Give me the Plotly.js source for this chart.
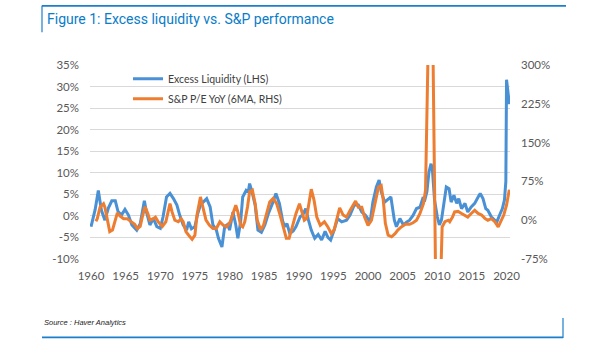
<!DOCTYPE html>
<html>
<head>
<meta charset="utf-8">
<script src="https://cdn.plot.ly/plotly-3.0.1.min.js"></script>
<style>html,body{margin:0;padding:0;background:#fff;}#chart{width:605px;height:341px;}</style>
</head>
<body>
<div id="chart"></div>
<script>
// Excess Liquidity (LHS, %)
const liqYears = [1960.0,1960.3,1960.6,1961.05,1961.5,1962.0,1962.5,1963.0,1963.5,1963.9,1964.4,1964.9,1965.4,1965.9,1966.6,1967.1,1967.7,1968.0,1968.5,1969.0,1969.5,1970.0,1970.4,1970.9,1971.4,1971.9,1972.4,1972.8,1973.3,1973.8,1974.1,1974.5,1975.0,1975.4,1975.8,1976.2,1976.7,1977.2,1977.6,1978.1,1978.4,1978.9,1979.1,1979.3,1979.8,1980.0,1980.5,1980.9,1981.2,1981.6,1981.9,1982.4,1982.7,1982.9,1983.3,1983.7,1984.1,1984.6,1985.1,1985.6,1986.2,1986.7,1987.2,1987.7,1988.0,1988.3,1988.7,1989.2,1989.6,1990.2,1990.6,1991.0,1991.4,1991.8,1992.3,1992.8,1993.3,1993.8,1994.2,1994.6,1995.1,1995.6,1996.2,1996.9,1997.4,1998.0,1998.6,1999.1,1999.6,2000.3,2000.7,2001.2,2001.6,2001.9,2002.4,2002.9,2003.3,2003.8,2004.1,2004.6,2005.1,2005.6,2006.0,2006.5,2007.0,2007.5,2007.9,2008.2,2008.5,2008.8,2009.1,2009.3,2009.6,2010.0,2010.3,2010.6,2010.8,2011.0,2011.3,2011.7,2012.0,2012.4,2012.8,2013.1,2013.5,2014.0,2014.4,2014.9,2015.4,2015.9,2016.2,2016.6,2017.0,2017.3,2017.8,2018.3,2018.6,2019.0,2019.4,2019.7,2019.9,2020.0,2020.2,2020.4,2020.45];
const liqValues = [-2.5,-0.3,1.5,5.9,1.3,-1.0,1.8,3.5,3.5,1.0,0.2,1.5,0.2,-2.1,-3.3,-1.8,3.5,0.9,-2.1,-0.6,-2.5,-2.9,-0.2,4.4,5.2,4.0,2.5,0.2,-2.1,-3.3,-1.4,-3.0,-2.5,0.5,2.5,3.2,4.0,2.1,-2.1,-3.3,-5.2,-7.2,-5.2,-2.5,-1.9,-3.3,0.9,-2.1,-5.2,-1.4,4.4,5.9,5.5,7.5,5.2,2.5,-3.3,-3.8,-2.1,0.5,2.9,5.2,2.9,-1.4,-2.5,-1.8,-4.1,-3.5,-2.5,-0.2,0.3,1.7,-1.0,-3.3,-5.2,-4.3,-5.6,-3.6,-5.0,-5.6,-3.3,-0.6,-1.4,-1.0,0.2,2.5,2.5,0.9,0.2,-1.4,3.2,6.7,8.3,5.6,3.2,4.0,4.4,-1.0,-2.5,-0.6,-2.1,-1.4,-1.0,0.1,1.7,2.0,4.0,3.7,5.6,10.2,12.1,10.6,3.7,-0.2,-2.1,-1.0,1.3,3.5,6.7,6.3,3.2,4.8,2.9,4.0,1.7,2.9,0.9,2.1,2.9,4.4,5.2,4.0,1.7,1.3,-0.2,-1.0,-1.4,0.2,1.7,3.7,8.0,31.6,28.0,26.0,26.3];

// S&P P/E YoY, 6MA (RHS, %)
const peYears = [1960.7,1960.9,1961.3,1961.8,1962.0,1962.4,1962.7,1963.1,1963.5,1963.8,1964.2,1964.7,1965.2,1965.9,1966.3,1966.7,1967.1,1967.4,1967.8,1968.2,1968.5,1969.0,1969.3,1969.7,1970.3,1970.8,1971.2,1971.4,1971.7,1972.1,1972.6,1973.0,1973.3,1973.7,1974.1,1974.6,1975.0,1975.3,1975.8,1976.2,1976.6,1977.1,1977.6,1978.1,1978.6,1979.1,1979.6,1980.1,1980.5,1980.9,1981.2,1981.6,1981.9,1982.2,1982.6,1982.9,1983.3,1983.7,1984.0,1984.5,1984.9,1985.4,1985.8,1986.3,1986.8,1987.3,1987.7,1988.2,1988.6,1989.1,1989.6,1990.1,1990.4,1990.8,1991.1,1991.5,1991.8,1992.2,1992.6,1993.1,1993.7,1994.2,1994.7,1995.1,1995.5,1995.9,1996.4,1996.9,1997.4,1997.9,1998.2,1998.6,1999.1,1999.5,2000.0,2000.5,2001.0,2001.5,2001.9,2002.2,2002.5,2002.9,2003.4,2003.9,2004.3,2004.8,2005.4,2006.0,2006.5,2007.0,2007.5,2008.0,2008.3,2008.8,2009.3,2009.8,2010.4,2010.7,2011.1,2011.6,2011.8,2012.2,2012.5,2013.0,2013.5,2014.0,2014.4,2014.9,2015.4,2015.9,2016.4,2016.9,2017.3,2017.8,2018.3,2018.8,2019.2,2019.6,2020.0,2020.4];
const peValues = [-2,3,25,32,25,-6,-22,-19,3,14,8,3,3,-3,-8,-16,-12,6,26,13,0,3,6,-3,-12,-3,22,32,16,0,-3,3,-3,-22,-29,-37,-29,10,45,19,0,-10,-16,-16,-3,-10,-13,-3,13,29,16,-10,-13,-3,26,55,58,32,0,-19,-10,13,35,42,32,10,-10,-35,-35,-10,13,32,16,0,3,32,60,39,6,-10,-3,-13,-26,-19,0,24,10,6,19,32,37,25,25,6,-10,0,29,64,67,39,-6,-29,-32,-26,-19,-13,-8,-8,-5,0,13,32,58,420,420,-160,-160,-13,-3,0,-3,6,16,17,13,10,6,13,19,13,10,3,0,3,-3,-13,-3,10,29,59];

const tickYears = [1960,1965,1970,1975,1980,1985,1990,1995,2000,2005,2010,2015,2020];
const leftTicks = [-10,-5,0,5,10,15,20,25,30,35];
const rightTicks = [-75,0,75,150,225,300];

const seriesNames = ['Excess Liquidity (LHS)', 'S&P P/E YoY (6MA, RHS)'];

const blue = '#4A90D4';
const orange = '#ED7D31';
const frame = '#1B7FCC';
const tickFont = {family: 'Lato, "Open Sans", sans-serif', size: 11.5, color: '#595959'};

const traces = [
  {x: liqYears, y: liqValues, name: seriesNames[0], type: 'scatter', mode: 'lines',
   line: {color: blue, width: 3}, yaxis: 'y', legendgroup: 'a'},
  {x: peYears, y: peValues, name: seriesNames[1], type: 'scatter', mode: 'lines',
   line: {color: orange, width: 3}, yaxis: 'y2', legendgroup: 'b'}
];

const px2x = px => (px - 90) / 420;
const px2y = py => (259 - py) / 194.3;

const layout = {
  width: 605, height: 341,
  margin: {l: 90, r: 95, t: 64.7, b: 82, pad: 0},
  paper_bgcolor: '#fff', plot_bgcolor: '#fff',
  showlegend: true,
  title: {text: 'Figure 1: Excess liquidity vs. S&P performance',
          font: {family: 'Roboto, "Liberation Sans", sans-serif', size: 14, color: '#0A7CC8'},
          x: 47/605, xanchor: 'left', xref: 'container',
          y: 1 - 19/341, yanchor: 'middle', yref: 'container'},
  xaxis: {range: [1959.85, 2020.5], tickvals: tickYears, ticktext: tickYears.map(String),
          showgrid: false, zeroline: false, showline: false, ticks: '',
          tickfont: tickFont, ticklabelstandoff: 8, fixedrange: true},
  yaxis: {range: [-10, 35], tickvals: leftTicks, ticktext: leftTicks.map(v => v + '%'),
          showgrid: true, gridcolor: '#D9D9D9', gridwidth: 1, zeroline: false, showline: false,
          ticks: '', tickfont: tickFont, ticklabelstandoff: 10},
  yaxis2: {range: [-75, 300], tickvals: rightTicks, ticktext: rightTicks.map(v => v + '%'),
           overlaying: 'y', side: 'right', showgrid: false, zeroline: false, showline: false,
           ticks: '', tickfont: tickFont, ticklabelstandoff: 10},
  legend: {x: px2x(128), xanchor: 'left', y: px2y(64), yanchor: 'top',
           bgcolor: 'rgba(0,0,0,0)', font: {family: 'Lato, "Open Sans", sans-serif', size: 10.5, color: '#404040'},
           traceorder: 'grouped', tracegroupgap: 1, itemwidth: 30},
  shapes: [
    {type: 'line', xref: 'paper', yref: 'paper', x0: px2x(42), x1: px2x(566), y0: px2y(5.5), y1: px2y(5.5),
     line: {color: frame, width: 1.6}},
    {type: 'line', xref: 'paper', yref: 'paper', x0: px2x(42), x1: px2x(42), y0: px2y(5), y1: px2y(32),
     line: {color: frame, width: 1.2}},
    {type: 'line', xref: 'paper', yref: 'paper', x0: px2x(42), x1: px2x(563), y0: px2y(337.5), y1: px2y(337.5),
     line: {color: frame, width: 1.6}},
    {type: 'line', xref: 'paper', yref: 'paper', x0: px2x(563), x1: px2x(563), y0: px2y(318), y1: px2y(338),
     line: {color: frame, width: 1.2}}
  ],
  annotations: [
    {text: '<i>Source : Haver Analytics</i>', xref: 'paper', yref: 'paper', x: px2x(42), y: px2y(323),
     xanchor: 'left', yanchor: 'middle', showarrow: false,
     font: {family: '"Liberation Sans", Arial, sans-serif', size: 7.5, color: '#222'}}
  ]
};

Plotly.newPlot('chart', traces, layout, {displayModeBar: false, staticPlot: true});
</script>
</body>
</html>
